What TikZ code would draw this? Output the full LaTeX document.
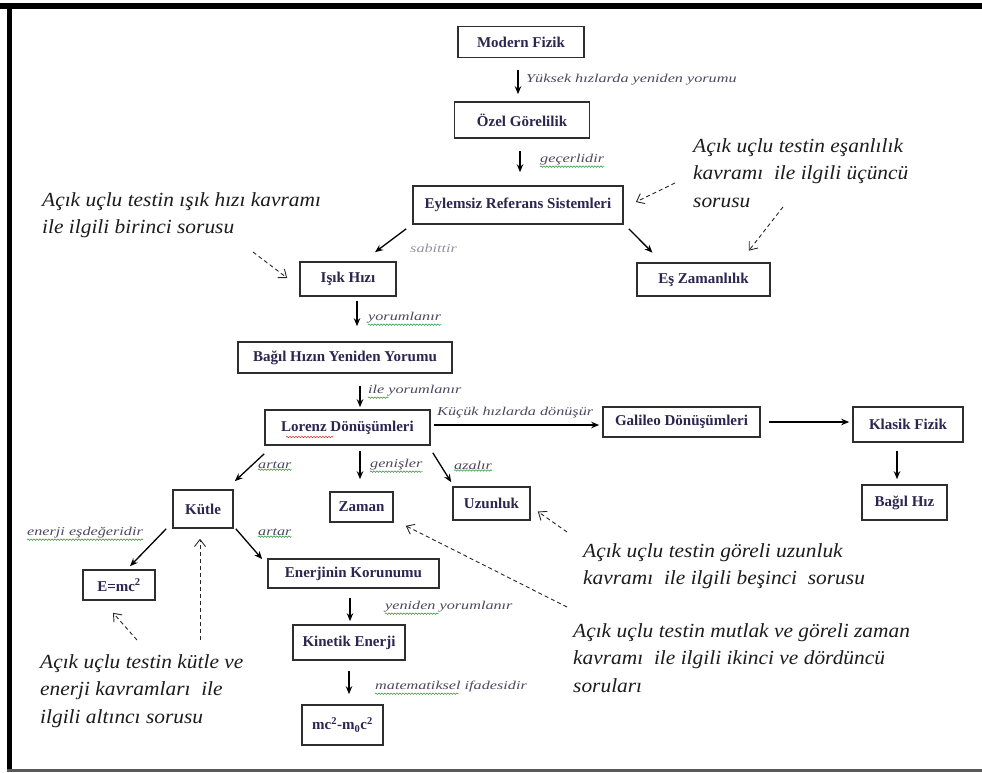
\documentclass[tikz,border=0pt]{standalone}
\usepackage{fontspec}
\setmainfont{Liberation Serif}
\newfontfamily\boxfont{Liberation Serif}
\newfontfamily\lblfont{Liberation Serif}[FakeStretch=1.35]
\newfontfamily\notefont{Liberation Serif}[FakeStretch=1.07]
\usetikzlibrary{arrows.meta,calc,decorations.pathmorphing}

\definecolor{boxtext}{HTML}{2B2550}
\definecolor{boxline}{HTML}{2E2E2E}
\definecolor{lbltext}{HTML}{4D4860}
\definecolor{notetext}{HTML}{1C1C1C}
\definecolor{squiggle}{HTML}{49A857}
\definecolor{redsquiggle}{HTML}{D9363E}

\tikzset{
  concept/.style={draw=boxline, line width=1.6pt, fill=white, inner sep=0pt,
    text=boxtext, font=\boxfont\bfseries\fontsize{15}{17}\selectfont},
  arr/.style={-{Stealth[length=8pt,width=6.5pt]}, line width=1.3pt, black},
  notearrow/.style={-{Straight Barb[length=7pt,width=11pt]}, line width=0.9pt,
    dash pattern=on 4pt off 3pt, black!85},
  lbl/.style={anchor=west, inner sep=0pt, text=lbltext,
    font=\lblfont\itshape\fontsize{12}{14}\selectfont},
  note/.style={anchor=base west, inner sep=0pt, align=left, text=notetext,
    font=\notefont\itshape\fontsize{20}{27.5}\selectfont},
  squig/.style={decorate, decoration={snake, amplitude=0.7pt, segment length=3pt},
    draw=squiggle, line width=0.7pt},
}

\begin{document}
\begin{tikzpicture}[x=1pt,y=-1pt]
\useasboundingbox (0,0) rectangle (982,773);
% page frame
\fill[black] (0,3) rectangle (982,9);
\fill[black] (7,3) rectangle (12,771);
\fill[black!65] (7,769) rectangle (982,772);

% concept boxes
\node[concept, minimum width=126pt, minimum height=31pt] (modern)   at (521,42)    {Modern Fizik};
\node[concept, minimum width=135pt, minimum height=36pt] (ozel)     at (522,120)   {Özel Görelilik};
\node[concept, minimum width=210pt, minimum height=38pt] (eylemsiz) at (518,205)   {Eylemsiz Referans Sistemleri};
\node[concept, minimum width=96pt,  minimum height=34pt] (isik)     at (348,279)   {Işık Hızı};
\node[concept, minimum width=133pt, minimum height=33pt] (es)       at (703.5,279.5) {Eş Zamanlılık};
\node[concept, minimum width=214pt, minimum height=31pt] (bagil)    at (345,357.5) {Bağıl Hızın Yeniden Yorumu};
\node[concept, minimum width=165pt, minimum height=35pt] (lorenz)   at (347.5,427.5) {Lorenz Dönüşümleri};
\node[concept, minimum width=157pt, minimum height=30pt] (galileo)  at (681.5,422) {Galileo Dönüşümleri};
\node[concept, minimum width=110pt, minimum height=35pt] (klasik)   at (908,424.5) {Klasik Fizik};
\node[concept, minimum width=85pt,  minimum height=35pt] (bhiz)     at (904.5,502.5) {Bağıl Hız};
\node[concept, minimum width=60pt,  minimum height=38pt] (kutle)    at (203,509)   {Kütle};
\node[concept, minimum width=63pt,  minimum height=30pt] (zaman)    at (361.5,507) {Zaman};
\node[concept, minimum width=77pt,  minimum height=33pt] (uzunluk)  at (491.5,503.5) {Uzunluk};
\node[concept, minimum width=72pt,  minimum height=30pt] (emc)      at (119,585)   {E=mc\textsuperscript{2}};
\node[concept, minimum width=171pt, minimum height=29pt] (enerji)   at (353.5,573.5) {Enerjinin Korunumu};
\node[concept, minimum width=112pt, minimum height=35pt] (kinetik)  at (349,642.5) {Kinetik Enerji};
\node[concept, minimum width=81pt,  minimum height=40pt] (mc)       at (342.5,725) {mc\textsuperscript{2}-m\textsubscript{0}c\textsuperscript{2}};

% spell-check mark under the Lorenz box title
\draw[squig, draw=redsquiggle, line width=0.6pt] (286,437) -- (333,437);

% solid connectors
\draw[arr] ($(modern.south)+(-3,12)$) -- ($(ozel.north)+(-4,-7)$);
\draw[arr] ($(ozel.south)+(-2,12)$) -- ($(eylemsiz.north)+(2,-13)$);
\draw[arr] ($(eylemsiz.south west)+(-6,4)$) -- ($(isik.north)+(27,-9)$);
\draw[arr] ($(eylemsiz.south east)+(5,4)$) -- ($(es.north)+(-51,-9.5)$);
\draw[arr] ($(isik.south)+(9,4)$) -- ($(bagil.north)+(12,-15)$);
\draw[arr] ($(bagil.south)+(15,12)$) -- ($(lorenz.north)+(12.5,-2)$);
\draw[arr] ($(lorenz.east)+(3,-2.5)$) -- ($(galileo.west)+(-3,3)$);
\draw[arr] ($(galileo.east)+(8,0)$) -- ($(klasik.west)+(-3,-2.5)$);
\draw[arr] ($(klasik.south)+(-11,8)$) -- ($(bhiz.north)+(-7.5,-5)$);
\draw[arr] ($(lorenz.south west)+(0,8)$) -- ($(kutle.north east)+(1,-8)$);
\draw[arr] ($(lorenz.south)+(12.5,5)$) -- ($(zaman.north)+(-1.5,-12)$);
\draw[arr] ($(lorenz.south east)+(2,7)$) -- ($(uzunluk.north west)+(-1,-4)$);
\draw[arr] ($(kutle.south west)+(-6,0)$) -- ($(emc.north)+(11,-3)$);
\draw[arr] ($(kutle.south east)+(2,0)$) -- ($(enerji.north west)+(-5,1)$);
\draw[arr] ($(enerji.south)+(-3.5,9)$) -- ($(kinetik.north)+(1,-3)$);
\draw[arr] ($(kinetik.south)+(0,10)$) -- ($(mc.north)+(6.5,-10)$);

% connector labels
\node[lbl] (l1)  at (526,80)  {Yüksek hızlarda yeniden yorumu};
\node[lbl] (l2)  at (540,160) {geçerlidir};
\node[lbl, text=lbltext!60] (l3) at (410,248) {sabittir};
\node[lbl] (l4)  at (368,318) {yorumlanır};
\node[lbl] (l5)  at (368,391) {ile yorumlanır};
\node[lbl] (l6)  at (437,413) {Küçük hızlarda dönüşür};
\node[lbl] (l7)  at (258,465) {artar};
\node[lbl] (l8)  at (370,465) {genişler};
\node[lbl] (l9)  at (454,465) {azalır};
\node[lbl] (l10) at (27,533)  {enerji eşdeğeridir};
\node[lbl] (l11) at (258,532) {artar};
\node[lbl] (l12) at (385,607) {yeniden yorumlanır};
\node[lbl] (l13) at (375,687) {matematiksel ifadesidir};

% spell-check marks under the labels
\draw[squig] ($(l2.south west)+(0,1)$) -- ($(l2.south east)+(0,1)$);
\draw[squig] ($(l4.south west)+(0,1)$) -- ($(l4.south east)+(0,1)$);
\draw[squig] ($(l5.south west)+(0,1)$) -- ($(l5.south west)!0.22!(l5.south east)+(0,1)$);
\draw[squig] ($(l7.south west)+(0,1)$) -- ($(l7.south east)+(0,1)$);
\draw[squig] ($(l8.south west)+(0,1)$) -- ($(l8.south east)+(0,1)$);
\draw[squig] ($(l9.south west)+(0,1)$) -- ($(l9.south east)+(0,1)$);
\draw[squig] ($(l10.south west)+(0,1)$) -- ($(l10.south east)+(0,1)$);
\draw[squig] ($(l11.south west)+(0,1)$) -- ($(l11.south east)+(0,1)$);
\draw[squig] ($(l12.south west)+(0,1)$) -- ($(l12.south west)!0.42!(l12.south east)+(0,1)$);
\draw[squig] ($(l13.south west)+(0,1)$) -- ($(l13.south west)!0.55!(l13.south east)+(0,1)$);

% question notes (positioned by the baseline of their last line)
\node[note] (n1) at (42,233.5)  {Açık uçlu testin ışık hızı kavramı\\ile ilgili birinci sorusu};
\node[note] (n3) at (693,207) {Açık uçlu testin eşanlılık\\kavramı~ ile ilgili üçüncü\\sorusu};
\node[note] (n5) at (583,584.5) {Açık uçlu testin göreli uzunluk\\kavramı~ ile ilgili beşinci~ sorusu};
\node[note] (n4) at (573,692) {Açık uçlu testin mutlak ve göreli zaman\\kavramı~ ile ilgili ikinci ve dördüncü\\soruları};
\node[note] (n6) at (40,723)  {Açık uçlu testin kütle ve\\enerji kavramları~ ile\\ilgili altıncı sorusu};

% tails of the dashed pointers
\coordinate (t1)  at (253,252);
\coordinate (t3a) at (675,183);
\coordinate (t3b) at (783,207);
\coordinate (t5)  at (567,532);
\coordinate (t4)  at (567,607);
\coordinate (t6a) at (200,640);
\coordinate (t6b) at (137,640);

\draw[notearrow] (t1)  -- ($(isik.west)+(-12,-1)$);
\draw[notearrow] (t3a) -- ($(eylemsiz.east)+(12,-3)$);
\draw[notearrow] (t3b) -- ($(es.north east)+(-22,-11.5)$);
\draw[notearrow] (t5)  -- ($(uzunluk.east)+(7,8)$);
\draw[notearrow] (t4)  -- ($(zaman.south east)+(12,3)$);
\draw[notearrow] (t6a) -- ($(kutle.south)+(-3,10)$);
\draw[notearrow] (t6b) -- ($(emc.south)+(-6,12)$);
\end{tikzpicture}
\end{document}
